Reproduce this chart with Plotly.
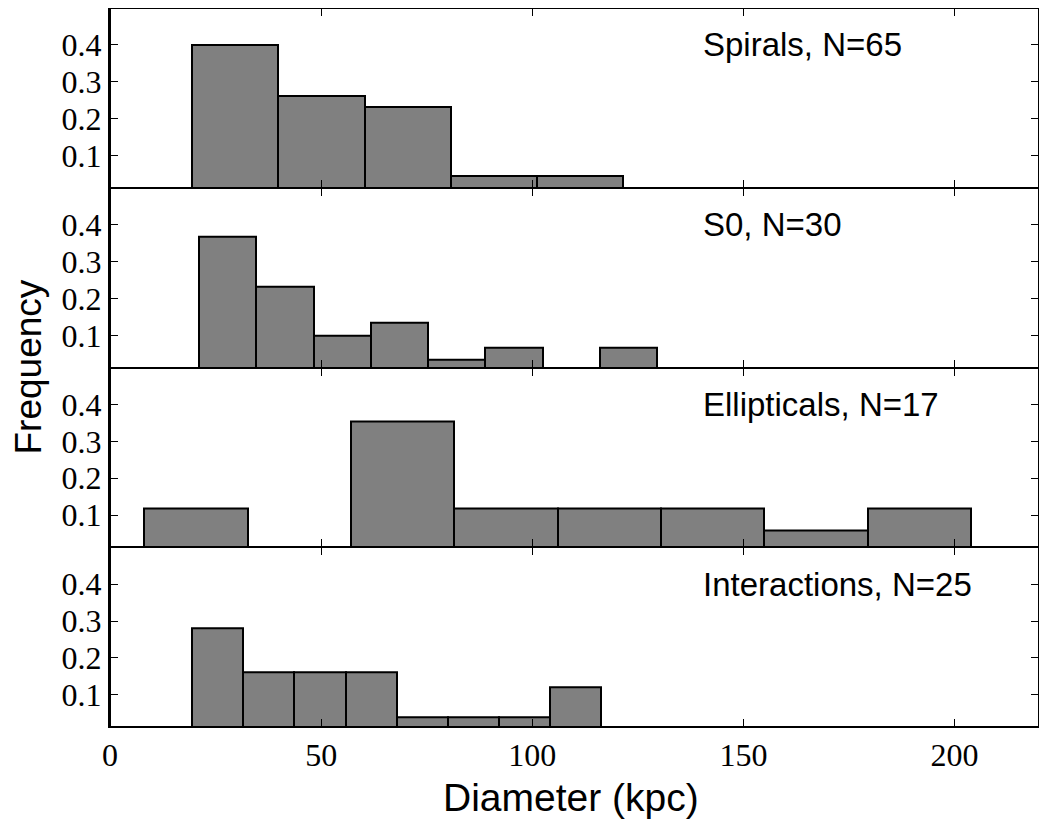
import plotly.graph_objects as go
from plotly.subplots import make_subplots

# Histogram bins (diameter in kpc) and frequencies
spiral_edges = [19.3, 39.7, 60.3, 80.7, 101.2, 121.6]
spiral_freq = [0.400, 0.262, 0.231, 0.046, 0.046]

s0_edges = [21.0, 34.6, 48.2, 61.8, 75.3, 88.9, 102.5, 116.0, 129.6]
s0_freq = [0.367, 0.233, 0.100, 0.133, 0.033, 0.067, 0.0, 0.067]

ell_edges = [8.1, 32.6, 57.1, 81.5, 106.0, 130.4, 154.9, 179.4, 203.8]
ell_freq = [0.118, 0.0, 0.353, 0.118, 0.118, 0.118, 0.059, 0.118]

int_edges = [19.4, 31.5, 43.6, 55.8, 67.9, 80.0, 92.1, 104.2, 116.3]
int_freq = [0.28, 0.16, 0.16, 0.16, 0.04, 0.04, 0.04, 0.12]

labels = ["Spirals, N=65", "S0, N=30", "Ellipticals, N=17", "Interactions, N=25"]
panels = [(spiral_edges, spiral_freq), (s0_edges, s0_freq),
          (ell_edges, ell_freq), (int_edges, int_freq)]

x_ticks = [0, 50, 100, 150, 200]
y_ticks = [0.1, 0.2, 0.3, 0.4]

serif = "Liberation Serif"
sans = "Liberation Sans"

fig = make_subplots(rows=4, cols=1, shared_xaxes=True, vertical_spacing=0)

for i, (edges, freq) in enumerate(panels):
    row = i + 1
    centers = [(a + b) / 2 for a, b in zip(edges[:-1], edges[1:])]
    widths = [b - a for a, b in zip(edges[:-1], edges[1:])]
    fig.add_trace(go.Bar(x=centers, y=freq, width=widths,
                         marker=dict(color="#808080", line=dict(color="black", width=2)),
                         showlegend=False), row=row, col=1)
    fig.add_annotation(x=140, y=0.4, xref=f"x{row if row > 1 else ''}",
                       yref=f"y{row if row > 1 else ''}", text=labels[i],
                       showarrow=False, xanchor="left", yanchor="middle",
                       font=dict(family=sans, size=33, color="black"))
    fig.update_yaxes(range=[0.013, 0.5], tickvals=y_ticks, tickformat=".1f",
                     ticks="inside", ticklen=8, tickwidth=1, tickcolor="black",
                     showline=True, linecolor="black", linewidth=2, mirror="ticks",
                     showgrid=False, zeroline=False,
                     tickfont=dict(family=serif, size=32, color="black"),
                     row=row, col=1)
    # neighbouring panels share a border, so each x line is thin
    fig.update_xaxes(range=[0, 220], tickvals=x_ticks,
                     ticks="inside", ticklen=8, tickwidth=1, tickcolor="black",
                     showline=True, linecolor="black", linewidth=1, mirror="ticks",
                     showgrid=False, zeroline=False,
                     tickfont=dict(family=serif, size=32, color="black"),
                     row=row, col=1)

# outer frame
fig.add_shape(type="rect", xref="paper", yref="paper", x0=0, x1=1, y0=0, y1=1,
              line=dict(color="black", width=2), layer="above")

fig.add_annotation(text="Frequency", xref="paper", yref="paper", x=0, y=0.5,
                   xshift=-82, xanchor="center", yanchor="middle", textangle=-90,
                   showarrow=False, font=dict(family=sans, size=37, color="black"))
fig.add_annotation(text="Diameter (kpc)", xref="paper", yref="paper", x=0.5, y=0,
                   xshift=-4, yshift=-70, xanchor="center", yanchor="middle",
                   showarrow=False, font=dict(family=sans, size=39, color="black"))

# page body adds an 8px offset, so the figure is sized to fit the window
fig.update_layout(width=1035, height=818, bargap=0,
                  margin=dict(l=102, r=4, t=0, b=99),
                  plot_bgcolor="white", paper_bgcolor="white")

fig.write_html("out.html")
